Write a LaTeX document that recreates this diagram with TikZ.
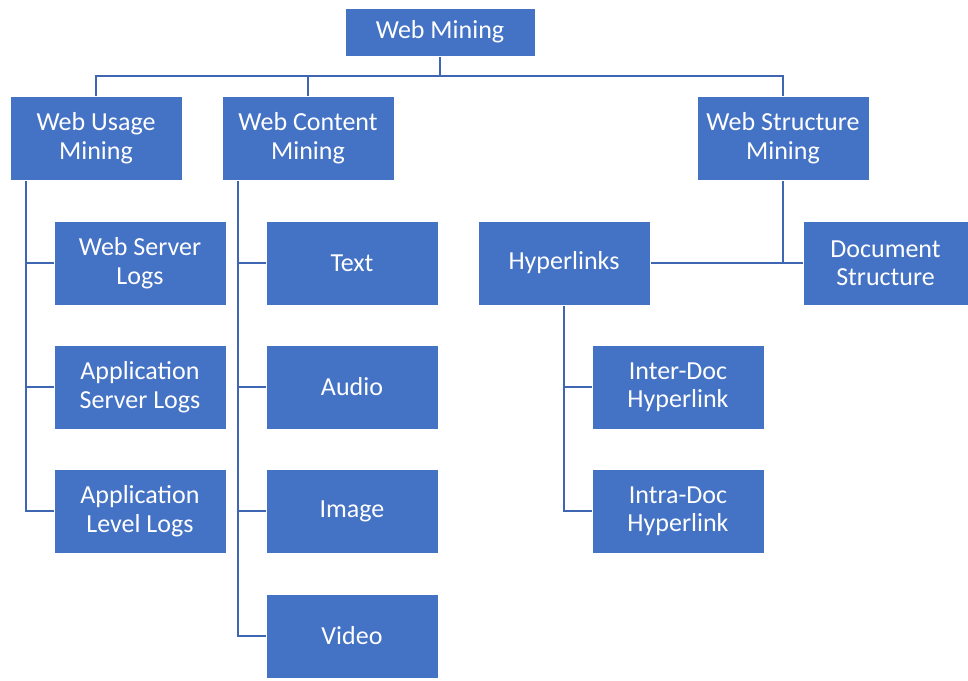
\documentclass[tikz,border=0pt]{standalone}
\usepackage{fontspec}
\setmainfont{Carlito}
\usetikzlibrary{backgrounds}
\definecolor{boxblue}{HTML}{4472C4}
\definecolor{lineblue}{HTML}{3E66B3}
\begin{document}
\begin{tikzpicture}[x=1pt,y=-1pt,
  box/.style={rectangle, fill=boxblue, draw=white, line width=0.8pt, text=white,
    align=center, minimum width=172pt, minimum height=84pt, inner sep=2pt,
    font=\fontsize{26}{28.5}\selectfont},
  conn/.style={draw=lineblue, line width=2.2pt}]
\useasboundingbox (0,0) rectangle (968,680);
\node[box, minimum width=190pt, minimum height=48pt] (wm) at (440,32) {Web Mining};
\node[box] (wu) at (96,138) {Web Usage\\Mining};
\node[box] (wc) at (308,138) {Web Content\\Mining};
\node[box] (ws) at (783,138) {Web Structure\\Mining};
\node[box] (wsl) at (140,263) {Web Server\\Logs};
\node[box] (asl) at (140,387) {Application\\Server Logs};
\node[box] (all) at (140,511) {Application\\Level Logs};
\node[box] (text) at (352,263) {Text};
\node[box] (audio) at (352,387) {Audio};
\node[box] (image) at (352,511) {Image};
\node[box] (video) at (352,636) {Video};
\node[box] (hyp) at (564,263) {Hyperlinks};
\node[box, minimum width=165pt] (doc) at (885.5,263) {Document\\Structure};
\node[box] (inter) at (678,387) {Inter-Doc\\Hyperlink};
\node[box] (intra) at (678,511) {Intra-Doc\\Hyperlink};
\coordinate (bus) at (440,76);
\coordinate (ux) at (26,0);
\coordinate (cx) at (238,0);
\begin{scope}[on background layer]
\draw[conn] (wm.south) -- (bus);
\draw[conn] (wu.north) |- (bus) -| (ws.north);
\draw[conn] (wc.north) -- (wc.north |- bus);
\draw[conn] (wu.south -| ux) |- (all.west);
\draw[conn] (wsl.west) -- (wsl.west -| ux);
\draw[conn] (asl.west) -- (asl.west -| ux);
\draw[conn] (wc.south -| cx) |- (video.west);
\draw[conn] (text.west) -- (text.west -| cx);
\draw[conn] (audio.west) -- (audio.west -| cx);
\draw[conn] (image.west) -- (image.west -| cx);
\draw[conn] (ws.south) -- (ws.south |- doc.west);
\draw[conn] (hyp.east) -- (doc.west);
\draw[conn] (hyp.south) |- (intra.west);
\draw[conn] (inter.west) -- (inter.west -| hyp.south);
\end{scope}
\end{tikzpicture}
\end{document}
